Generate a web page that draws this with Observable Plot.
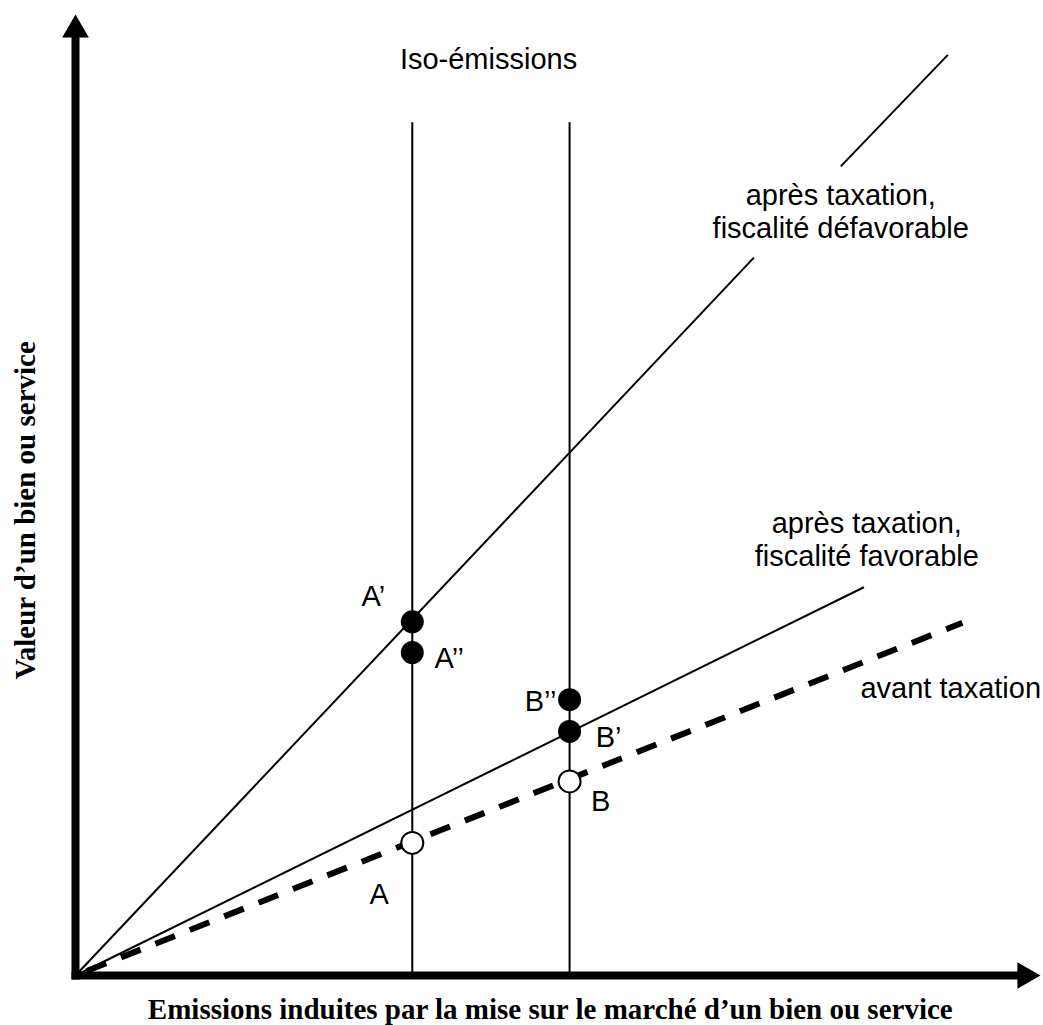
<!DOCTYPE html>
<html>
<head>
<meta charset="utf-8">
<script src="https://cdn.jsdelivr.net/npm/d3@7"></script>
<script src="https://cdn.jsdelivr.net/npm/@observablehq/plot@0.6"></script>
<style>
  html, body { margin: 0; padding: 0; background: #fff; }
  svg { display: block; }
</style>
</head>
<body>
<script>
// ---- data (schematic units) ----
const isoNames = ["A", "B"];
const isoEmissions = [3.49, 5.12];
const isoTop = 8.88;

// lines from the origin: end points
const lineNames = ["défavorable", "favorable", "avant"];
const lineEndX = [9.04, 8.17, 9.19];
const lineEndY = [9.58, 4.04, 3.67];
// défavorable line is interrupted behind its label
const defavGapStart = [7.03, 7.47];
const defavGapEnd = [7.93, 8.42];

// points
const pointNames = ["A’", "A’’", "B’’", "B’", "B", "A"];
const pointEmissions = [3.49, 3.49, 5.12, 5.12, 5.12, 3.49];
const pointValues = [3.68, 3.36, 2.87, 2.54, 2.02, 1.38];
const pointFilled = [true, true, true, true, false, false];

// texts
const isoLabel = "Iso-émissions";
const lineLabels = ["après taxation,\nfiscalité défavorable", "après taxation,\nfiscalité favorable", "avant taxation"];
const xTitle = "Emissions induites par la mise sur le marché d’un bien ou service";
const yTitle = "Valeur d’un bien ou service";
const axisMax = 10;
const axisShaftEnd = 9.75;

// ---- layout ----
const labelDx = [-39, 37, -29, 39, 31, -33];
const labelDy = [-16, 15, 11, 16, 30, 61];
const lineLabelPos = [[7.93, 7.67], [8.20, 4.26], [9.07, 2.89]];
const isoLabelPos = [4.28, 9.43];

const SANS = "'Liberation Sans', Arial, sans-serif";
const SERIF = "'Liberation Serif', 'Times New Roman', serif";

const points = pointNames.map((n, i) => ({name: n, x: pointEmissions[i], y: pointValues[i], filled: pointFilled[i], dx: labelDx[i], dy: labelDy[i]}));
const isoLines = isoNames.map((n, i) => ({name: n, x: isoEmissions[i], y1: 0, y2: isoTop}));
const segs = [
  {name: "défavorable", x1: 0, y1: 0, x2: defavGapStart[0], y2: defavGapStart[1]},
  {name: "défavorable", x1: defavGapEnd[0], y1: defavGapEnd[1], x2: lineEndX[0], y2: lineEndY[0]},
  {name: "favorable", x1: 0, y1: 0, x2: lineEndX[1], y2: lineEndY[1]}
];
const dashed = [{x1: 0, y1: 0, x2: lineEndX[2], y2: lineEndY[2]}];
const lineLabelData = lineLabels.map((t, i) => ({text: t, x: lineLabelPos[i][0], y: lineLabelPos[i][1]}));

const chart = Plot.plot({
  width: 1043,
  height: 1025,
  marginLeft: 75,
  marginRight: 3,
  marginTop: 14,
  marginBottom: 50,
  x: {domain: [0, axisMax], axis: null},
  y: {domain: [0, axisMax], axis: null},
  style: {background: "white", overflow: "visible"},
  marks: [
    // iso-emission verticals
    Plot.link(isoLines, {x1: "x", x2: "x", y1: "y1", y2: "y2", stroke: "black", strokeWidth: 2}),
    // tax lines
    Plot.link(segs, {x1: "x1", y1: "y1", x2: "x2", y2: "y2", stroke: "black", strokeWidth: 2}),
    Plot.link(dashed, {x1: "x1", y1: "y1", x2: "x2", y2: "y2", stroke: "black", strokeWidth: 6, strokeDasharray: "21,16", strokeDashoffset: -12}),
    // axes
    Plot.link([0], {x1: 0, y1: 0, x2: 0, y2: axisShaftEnd, stroke: "black", strokeWidth: 8, strokeLinecap: "square"}),
    Plot.link([0], {x1: 0, y1: 0, x2: axisShaftEnd, y2: 0, stroke: "black", strokeWidth: 8, strokeLinecap: "square"}),
    Plot.dot([0], {x: 0, y: axisMax, symbol: "triangle", r: 9.9, fill: "black", stroke: null, dy: 15.4}),
    Plot.dot([0], {x: axisMax, y: 0, symbol: "triangle", r: 9.9, fill: "black", stroke: null, rotate: 90, dx: -15.4}),
    // points
    Plot.dot(points.filter(d => d.filled), {x: "x", y: "y", r: 11.5, fill: "black", stroke: null}),
    Plot.dot(points.filter(d => !d.filled), {x: "x", y: "y", r: 11, fill: "white", stroke: "black", strokeWidth: 2}),
    // point labels
    ...points.map(d => Plot.text([d], {x: "x", y: "y", text: "name", dx: d.dx, dy: d.dy, lineAnchor: "bottom", textAnchor: "middle", fontSize: 29, fontFamily: SANS, fill: "black"})),
    // line labels
    Plot.text(lineLabelData, {x: "x", y: "y", text: "text", lineAnchor: "bottom", textAnchor: "middle", lineHeight: 1.15, fontSize: 29, fontFamily: SANS, fill: "black"}),
    Plot.text([isoLabel], {x: isoLabelPos[0], y: isoLabelPos[1], text: d => d, lineAnchor: "bottom", textAnchor: "middle", fontSize: 29, fontFamily: SANS, fill: "black"}),
    // axis titles
    Plot.text([xTitle], {x: 4.92, y: -0.45, text: d => d, lineAnchor: "bottom", textAnchor: "middle", fontSize: 29, fontWeight: "bold", fontFamily: SERIF, fill: "black"}),
    Plot.text([yTitle], {x: -0.42, y: 4.84, text: d => d, rotate: -90, lineAnchor: "bottom", textAnchor: "middle", fontSize: 29, fontWeight: "bold", fontFamily: SERIF, fill: "black"})
  ]
});
document.body.appendChild(chart);
</script>
</body>
</html>
